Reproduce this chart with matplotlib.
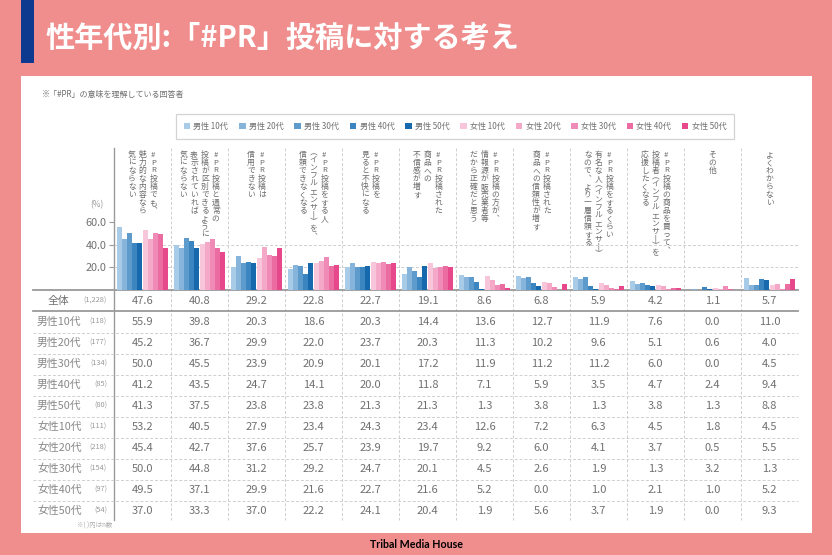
import matplotlib
matplotlib.use("Agg")
import matplotlib.pyplot as plt
from matplotlib.patches import Rectangle, Patch
import numpy as np

plt.rcParams['font.family'] = ['Noto Sans CJK JP', 'DejaVu Sans']

# data
categories = [
    ["#PR投稿でも、", "魅力的な内容なら", "気にならない"],
    ["#PR投稿と通常の", "投稿が区別できるように", "表示されていれば", "気にならない"],
    ["#PR投稿は", "信用できない"],
    ["#PR投稿をする人", "(インフルエンサー)を、", "信頼できなくなる"],
    ["#PR投稿を", "見ると不快になる"],
    ["#PR投稿された", "商品への", "不信感が増す"],
    ["#PR投稿の方が、", "情報源が販売業者等", "だから正確だと思う"],
    ["#PR投稿された", "商品への信頼性が増す"],
    ["#PR投稿をするくらい", "有名な人(インフルエンサー)", "なので、より一層信頼する"],
    ["#PR投稿の商品を買って、", "投稿者(インフルエンサー)を", "応援したくなる"],
    ["その他"],
    ["よくわからない"],
]
groups = ['男性10代', '男性20代', '男性30代', '男性40代', '男性50代',
          '女性10代', '女性20代', '女性30代', '女性40代', '女性50代']
legend_labels = ['男性 10代', '男性 20代', '男性 30代', '男性 40代', '男性 50代',
                 '女性 10代', '女性 20代', '女性 30代', '女性 40代', '女性 50代']
n_counts = ['(118)', '(177)', '(134)', '(85)', '(80)',
            '(111)', '(218)', '(154)', '(97)', '(54)']
total = [47.6, 40.8, 29.2, 22.8, 22.7, 19.1, 8.6, 6.8, 5.9, 4.2, 1.1, 5.7]
m10 = [55.9, 39.8, 20.3, 18.6, 20.3, 14.4, 13.6, 12.7, 11.9, 7.6, 0.0, 11.0]
m20 = [45.2, 36.7, 29.9, 22.0, 23.7, 20.3, 11.3, 10.2, 9.6, 5.1, 0.6, 4.0]
m30 = [50.0, 45.5, 23.9, 20.9, 20.1, 17.2, 11.9, 11.2, 11.2, 6.0, 0.0, 4.5]
m40 = [41.2, 43.5, 24.7, 14.1, 20.0, 11.8, 7.1, 5.9, 3.5, 4.7, 2.4, 9.4]
m50 = [41.3, 37.5, 23.8, 23.8, 21.3, 21.3, 1.3, 3.8, 1.3, 3.8, 1.3, 8.8]
f10 = [53.2, 40.5, 27.9, 23.4, 24.3, 23.4, 12.6, 7.2, 6.3, 4.5, 1.8, 4.5]
f20 = [45.4, 42.7, 37.6, 25.7, 23.9, 19.7, 9.2, 6.0, 4.1, 3.7, 0.5, 5.5]
f30 = [50.0, 44.8, 31.2, 29.2, 24.7, 20.1, 4.5, 2.6, 1.9, 1.3, 3.2, 1.3]
f40 = [49.5, 37.1, 29.9, 21.6, 22.7, 21.6, 5.2, 0.0, 1.0, 2.1, 1.0, 5.2]
f50 = [37.0, 33.3, 37.0, 22.2, 24.1, 20.4, 1.9, 5.6, 3.7, 1.9, 0.0, 9.3]
series = [m10, m20, m30, m40, m50, f10, f20, f30, f40, f50]
colors = ['#A8CBE7', '#86B4DA', '#5D9BCD', '#3B86C1', '#1769AE',
          '#F8C6DA', '#F4A9C9', '#EF8BB6', '#EB6CA1', '#E6488B']

PINK = '#F08E8E'
GRAY = '#707070'
LGRAY = '#cfcfcf'

W, H = 832, 555
fig = plt.figure(figsize=(W / 100, H / 100), dpi=100)
fig.patch.set_facecolor(PINK)
renderer = fig.canvas.get_renderer()

# overlay in pixel coordinates
ov = fig.add_axes([0, 0, 1, 1], zorder=0)
ov.set_xlim(0, W)
ov.set_ylim(H, 0)
ov.axis('off')
ov.add_patch(Rectangle((21, 76), 791, 457, facecolor='white', edgecolor='none'))
ov.add_patch(Rectangle((21, 0), 13, 63, facecolor='#0D3A8E', edgecolor='none'))
ov.text(45, 38, '性年代別:「#PR」投稿に対する考え', color='white', fontsize=21,
        fontweight='bold', va='center', ha='left')
ov.text(42, 94, '※「#PR」の意味を理解している回答者', color=GRAY, fontsize=5.8,
        va='center', ha='left')
ov.text(416, 545, 'Tribal Media House', color='black', fontsize=7.7,
        fontweight='bold', family=['Lato', 'DejaVu Sans'], va='center', ha='center')

# layout of chart / table
x_left, x_right = 114, 798
col_w = (x_right - x_left) / len(total)
y_top, y_base = 148, 290
y_bottom = 520
row_y0, row_h = 322, 21

# column separators and axis line
for k in range(1, len(total)):
    xx = x_left + k * col_w
    ov.plot([xx, xx], [y_top, y_bottom], color=LGRAY, lw=0.7, ls=(0, (3, 2)))
ov.plot([x_left, x_left], [y_top, y_bottom], color='#9a9a9a', lw=1.0)
ov.plot([33, x_right], [y_base, y_base], color='#9a9a9a', lw=1.3)
ov.plot([33, x_right], [311, 311], color='#9a9a9a', lw=1.3)
for i in range(len(groups) - 1):
    yy = row_y0 + row_h * (i + 0.5)
    ov.plot([33, x_right], [yy, yy], color=LGRAY, lw=0.7, ls=(0, (3, 2)))


# vertical (tategaki) category labels
vmap = {'ー': '丨', '(': '︵', ')': '︶', '、': '︑'}
pitch = 8.0
line_gap = 10.8
lab_kw = dict(color='#6a6a6a', fontsize=5.6, ha='center')


def split_runs(s):
    runs = []
    for ch in s:
        is_a = ch.isascii() and ch not in '()'
        if runs and is_a and runs[-1][0]:
            runs[-1][1] += ch
        else:
            runs.append([is_a, ch])
    return runs


for j, lines in enumerate(categories):
    cx = x_left + col_w * (j + 0.5)
    n = len(lines)
    for k, line in enumerate(lines):
        lx = cx + (n - 1) / 2 * line_gap - k * line_gap
        yy = 151
        for is_a, chunk in split_runs(line):
            if is_a:
                # upright half-width letters stacked in one text
                t = ov.text(lx, yy, '\n'.join(chunk), va='top', linespacing=0.95,
                            **lab_kw)
                h = t.get_window_extent(renderer).height
                yy += h + 0.6
            else:
                step = pitch * 0.62 if chunk in '()' else pitch
                ov.text(lx, yy + step / 2, vmap.get(chunk, chunk), va='center',
                        **lab_kw)
                yy += step

# table text
ov.text(48, 301, '全体', color=GRAY, fontsize=7.8, ha='left', va='center')
ov.text(107, 301, '(1,228)', color='#999999', fontsize=5.3, ha='right', va='center')
for j, v in enumerate(total):
    ov.text(x_left + col_w * (j + 0.5), 301, f'{v:.1f}', color=GRAY,
            fontsize=8, ha='center', va='center')
for i, (g, nc, vals) in enumerate(zip(groups, n_counts, series)):
    yy = row_y0 + row_h * i
    ov.text(37, yy, g, color='#888888', fontsize=7.8, ha='left', va='center')
    ov.text(107, yy, nc, color='#999999', fontsize=5.3, ha='right', va='center')
    for j, v in enumerate(vals):
        ov.text(x_left + col_w * (j + 0.5), yy, f'{v:.1f}', color=GRAY,
                fontsize=8, ha='center', va='center')
ov.text(112, 526, '※( )内はn数', color='#aaaaaa', fontsize=4.6, ha='right', va='center')

# bar chart
px_per_unit = (y_base - 222) / 60
ax = fig.add_axes([x_left / W, (H - y_base) / H, (x_right - x_left) / W,
                   (y_base - y_top) / H], zorder=1)
ax.patch.set_alpha(0)
ax.set_xlim(-0.5, len(total) - 0.5)
ax.set_ylim(0, (y_base - y_top) / px_per_unit)
for s in ax.spines.values():
    s.set_visible(False)
for g in [20, 40]:
    ax.axhline(g, color=LGRAY, lw=0.7, ls=(0, (3, 2)), zorder=0)
x = np.arange(len(total))
bw = 0.086
for i, (vals, c) in enumerate(zip(series, colors)):
    if i < 5:
        off = -0.012 - (4.5 - i) * bw
    else:
        off = 0.012 + (i - 5 + 0.5) * bw
    ax.bar(x + off, vals, width=bw, color=c, linewidth=0, zorder=2)
ax.set_xticks([])
ax.set_yticks([20, 40, 60])
ax.set_yticklabels(['20.0', '40.0', '60.0'])
ax.tick_params(axis='y', length=3.5, width=0.8, color='#9a9a9a', labelcolor=GRAY,
               labelsize=7.8, pad=2)
ov.text(97, 205, '(%)', color='#999999', fontsize=6, ha='center', va='center')

# legend
handles = [Patch(facecolor=c, edgecolor='none') for c in colors]
leg = fig.legend(handles, legend_labels, ncol=10, mode='expand', loc='center',
                 bbox_to_anchor=(172 / W, (H - 139) / H, (738 - 172) / W, 25 / H),
                 fontsize=5.8, frameon=True, fancybox=False, handlelength=0.8,
                 handleheight=0.8, handletextpad=0.4, borderpad=0.95,
                 columnspacing=1.0, labelcolor=GRAY)
leg.get_frame().set_edgecolor('#c8c8c8')
leg.get_frame().set_linewidth(0.9)

fig.savefig('out.png', dpi=100, facecolor=PINK)
